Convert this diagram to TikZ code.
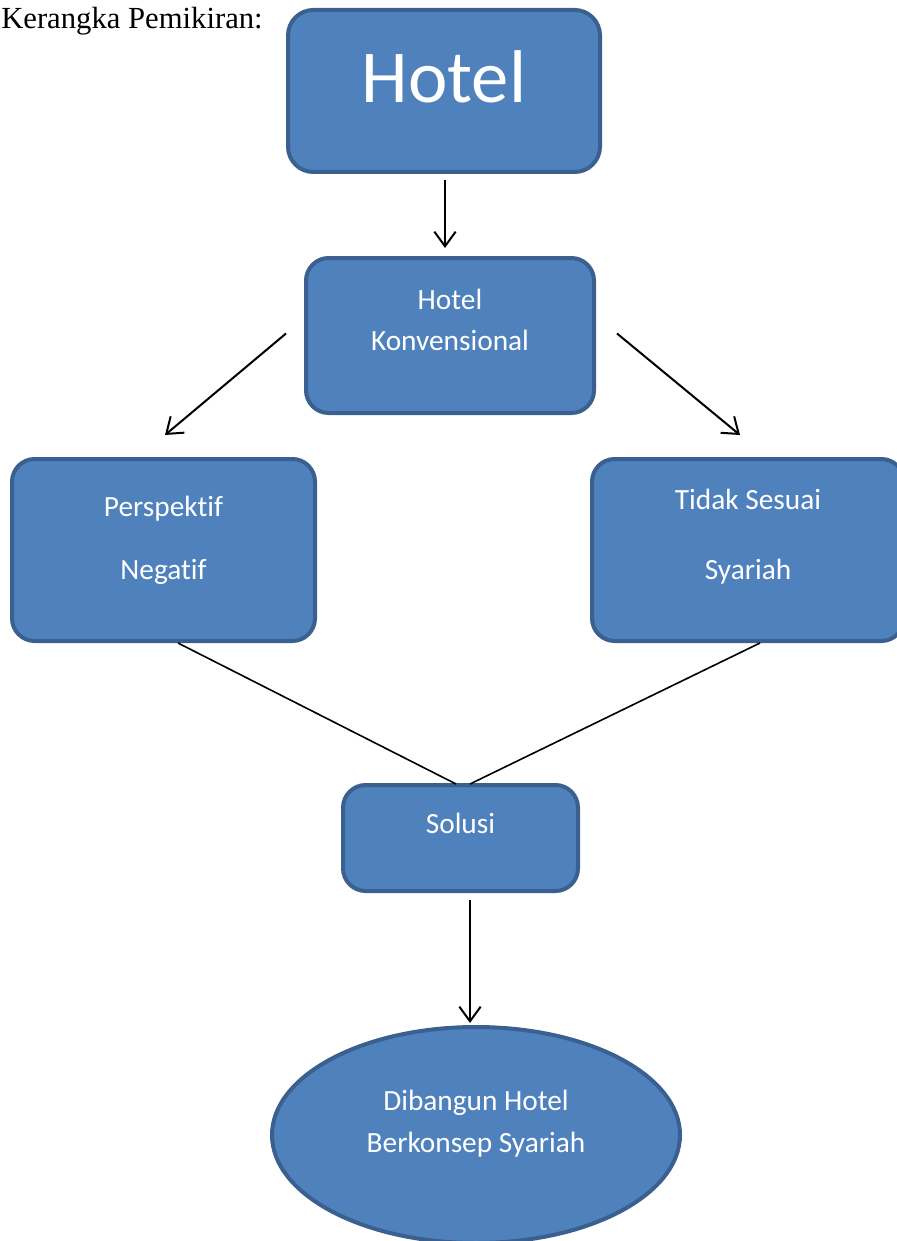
\documentclass[tikz,border=0pt]{standalone}
\usepackage{fontspec}
\setmainfont{Carlito}[Ligatures=NoCommon]
\newfontfamily\timesfont{Liberation Serif}
\usepackage{tikz}
\usetikzlibrary{arrows,arrows.meta}
\usetikzlibrary{shapes,calc,positioning}
\definecolor{boxfill}{HTML}{4F81BD}
\definecolor{boxline}{HTML}{3A6090}

\begin{document}
\begin{tikzpicture}[x=0.75pt,y=-0.75pt,>={Straight Barb[length=11pt,width=16pt]}]
    \tikzstyle{box}=[rectangle, rounded corners=17pt, draw=boxline, fill=boxfill, line width=3pt,
      text=white, align=center, inner sep=0pt, font=\fontsize{22}{31}\selectfont]
    \tikzstyle{oval}=[ellipse, draw=boxline, fill=boxfill, line width=3pt,
      text=white, align=center, inner sep=0pt, font=\fontsize{22}{31}\selectfont]
    \tikzstyle{arr}=[->, line width=1.5pt]
    \tikzstyle{link}=[line width=1.2pt]

    \useasboundingbox (0,0) rectangle (896,1241);

    \node[anchor=base west, inner sep=0pt, font=\timesfont\fontsize{23}{27}\selectfont] (judul) at (1,29) {Kerangka Pemikiran:};

    \node[box, minimum width=234pt, minimum height=121.5pt, rounded corners=19pt,
      font=\fontsize{56}{60}\selectfont, text height=39pt, text depth=21pt] (hotel) at (444,91) {Hotel};
    \node[box, minimum width=216pt, minimum height=116.25pt, text height=47pt, text depth=24pt] (konv) at (450,335.5) {Hotel\\Konvensional};
    \node[box, minimum width=227.25pt, minimum height=136.5pt, text height=63pt, text depth=19.5pt] (persp) at (163.5,550) {Perspektif\\[16pt]Negatif};
    \node[box, minimum width=234pt, minimum height=136.5pt, text height=68pt, text depth=24.5pt] (tidak) at (748,550) {Tidak Sesuai\\[21pt]Syariah};
    \node[box, minimum width=176.25pt, minimum height=79.5pt, text height=16pt, text depth=23.5pt] (solusi) at (460.5,838) {Solusi};
    \node[oval, minimum width=306pt, minimum height=162pt, text height=47pt, text depth=21.5pt] (bangun) at (476,1135) {Dibangun Hotel\\Berkonsep Syariah};

    \draw[arr] ($(hotel.south)+(1,6)$) -- ($(konv.north)+(-5,-8)$);
    \draw[arr] ($(konv.west)+(-18,-2)$) -- ($(persp.north)+(1.5,-22)$);
    \draw[arr] ($(konv.east)+(21,-2)$) -- ($(tidak.north)+(-8,-22)$);
    \draw[link] ($(persp.south)+(14.5,0)$) -- ($(solusi.north)+(-4.5,1)$);
    \draw[link] ($(tidak.south)+(12,0)$) -- ($(solusi.north)+(9.5,1)$);
    \draw[arr] ($(solusi.south)+(9.5,7)$) -- ($(bangun.north)+(-6,-2)$);

  \end{tikzpicture}
\end{document}
